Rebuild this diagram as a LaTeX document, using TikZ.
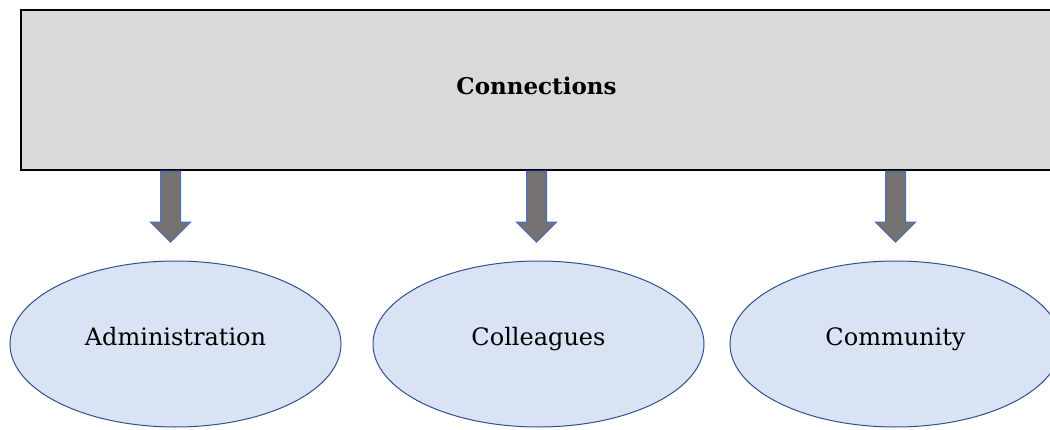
\documentclass[tikz,border=0pt]{standalone}
\usepackage{fontspec}
\setmainfont{DejaVu Serif}
\usepackage{xcolor}
\usepackage{tikz}
\usetikzlibrary{positioning, calc, shapes.geometric, shapes.arrows}

\definecolor{boxgray}{HTML}{D9D9D9}
\definecolor{ovalfill}{HTML}{DAE3F3}
\definecolor{ovalline}{HTML}{2F528F}
\definecolor{arrowfill}{HTML}{767171}
\definecolor{arrowline}{HTML}{4472C4}

\begin{document}
\begin{tikzpicture}[
  x=1pt, y=1pt,
  topbox/.style={draw=black, line width=1.5pt, fill=boxgray, minimum width=1031pt, minimum height=160pt, inner sep=0pt, font=\fontsize{23}{27}\selectfont\bfseries, text height=15pt, text depth=5pt},
  oval/.style={ellipse, draw=ovalline, line width=1pt, fill=ovalfill, minimum width=331pt, minimum height=166pt, inner sep=0pt, font=\fontsize{24}{28}\selectfont, text height=15pt, text depth=12pt},
  downarrow/.style={single arrow, draw=arrowline, line width=1pt, fill=arrowfill, minimum height=71pt, inner xsep=0pt, inner ysep=9.5pt, single arrow head extend=10pt, rotate=-90, anchor=tail},
]
  \useasboundingbox (0,0) rectangle (1050,429);

  % Connections
  \node[topbox] (conn) at (536.5,339) {Connections};

  % Ovals
  \node[oval] (admin) at (175.5,85) {Administration};
  \node[oval, right=31pt of admin] (coll) {Colleagues};
  \node[oval, right=25pt of coll] (comm) {Community};

  % Block arrows
  \node[downarrow] (arradmin) at ($(conn.south -| admin.north)+(-5,0)$) {};
  \node[downarrow] (arrcoll) at ($(conn.south -| coll.north)+(-2,0)$) {};
  \node[downarrow] (arrcomm) at (conn.south -| comm.north) {};

\end{tikzpicture}
\end{document}
